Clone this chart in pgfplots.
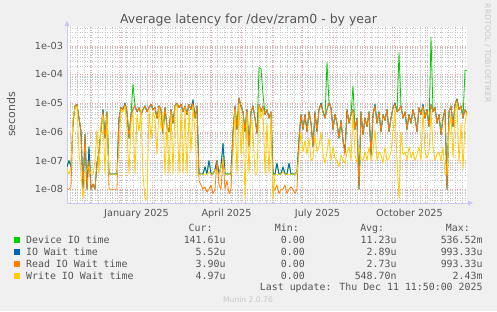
\documentclass[border=0pt]{standalone}
\usepackage{pgfplots}
\pgfplotsset{compat=1.18}
\usepackage{pgfplotstable}
\usetikzlibrary{arrows.meta}
\usepackage{fontspec}
\setmainfont{DejaVu Sans}
\newfontfamily\mono{DejaVu Sans Mono}
\definecolor{bgcol}{HTML}{F0F0F0}
\definecolor{txtcol}{HTML}{555555}
\definecolor{axcol}{HTML}{C8C8F0}
\definecolor{cdev}{HTML}{00CC00}
\definecolor{cio}{HTML}{0066B3}
\definecolor{crd}{HTML}{FF8000}
\definecolor{cwr}{HTML}{FFCC00}
\definecolor{majg}{HTML}{EBA8A8}
\definecolor{ming}{HTML}{C4C4C4}

\pgfplotstableread{
x dev io rd wr
0 6e-8 6e-8 1e-8 5e-8
2 1e-7 1e-7 1e-8 3.3e-8
4 6e-8 6e-8 1.2e-8 6e-8
6 2e-6 2e-6 2e-6 3e-6
8 8e-6 8e-6 8e-6 7e-6
10 9e-6 9e-6 9e-6 8e-6
12 3e-6 3e-6 3e-6 2e-7
14 1e-6 1e-6 1e-6 3.3e-8
16 1e-8 1e-8 1e-8 4.5e-9
18 8e-7 8e-7 8e-7 3.3e-8
20 1e-8 1e-8 1e-8 5e-8
22 3e-7 3e-7 1e-7 6e-8
24 1e-8 1e-8 1e-8 3.3e-8
26 1.5e-8 1.5e-8 1.5e-8 3.3e-8
28 1e-8 1e-8 1e-8 1e-7
30 8e-8 8e-8 8e-8 1.2e-6
32 2e-7 2e-7 2e-7 3.3e-8
34 1.2e-6 1.2e-6 1.2e-6 2e-6
36 6e-6 6e-6 5e-6 4e-6
38 6e-7 6e-7 6e-7 3.3e-8
40 5e-6 5e-6 5e-6 4e-6
42 3.4e-8 3.4e-8 1e-8 3.3e-8
44 3.4e-8 3.4e-8 1e-8 3.3e-8
46 3.4e-8 3.4e-8 1e-8 3.3e-8
48 3.4e-8 3.4e-8 1e-8 3.3e-8
50 3.4e-8 3.4e-8 1e-8 3.3e-8
52 3e-6 3e-6 3e-6 3e-7
54 7e-6 7e-6 7e-6 6e-6
56 6e-6 6e-6 6e-6 5e-6
58 1e-5 1e-5 9e-6 8e-6
60 5e-6 5e-6 5e-6 1e-6
62 6e-7 6e-7 6e-7 3.3e-8
64 4e-6 4e-6 4e-6 2e-6
66 4.6e-5 6e-6 6e-6 5e-6
68 8e-6 8e-6 8e-6 3.3e-8
70 5e-6 5e-6 5e-6 4e-6
72 7e-6 7e-6 7e-6 1e-6
74 4e-6 4e-6 4e-6 6e-6
76 6e-6 6e-6 6e-6 3.3e-8
78 8e-6 8e-6 8e-6 4.5e-9
80 5e-6 5e-6 5e-6 4.5e-9
82 7e-6 7e-6 7e-6 6e-6
84 9e-6 9e-6 9e-6 5.5e-7
86 6e-6 6e-6 6e-6 5e-6
88 7e-6 7e-6 7e-6 3e-6
90 3e-6 3e-6 3e-6 1.6e-7
92 8e-6 8e-6 8e-6 7e-6
94 6e-6 6e-6 6e-6 1.2e-6
96 9e-7 9e-7 9e-7 5e-6
98 7e-6 7e-6 7e-6 3.3e-8
100 1.5e-6 1.5e-6 1.5e-6 2e-6
102 1e-6 1e-6 1e-6 3.3e-8
104 6e-6 6e-6 6e-6 5e-6
106 2e-6 2e-6 2e-6 3.3e-8
108 8e-6 8e-6 8e-6 7e-6
110 1e-5 1e-5 1e-5 9e-6
112 7e-6 7e-6 7e-6 3.3e-8
114 9e-6 9e-6 9e-6 6e-6
116 5e-6 5e-6 5e-6 3.3e-8
118 8e-6 8e-6 8e-6 7e-6
120 4e-6 4e-6 4e-6 3.3e-8
122 9e-6 9e-6 9e-6 5e-6
124 6e-6 6e-6 6e-6 2e-7
126 1.3e-5 1.3e-5 1e-5 8e-6
128 3e-6 3e-6 3e-6 1e-6
130 8e-6 8e-6 8e-6 3.3e-8
132 3.4e-8 3.4e-8 2e-8 3.3e-8
134 3.4e-8 3.4e-8 1.4e-8 3.3e-8
136 3.4e-8 3.4e-8 1e-8 3.3e-8
138 6e-8 6e-8 1.2e-8 3.3e-8
140 3.4e-8 3.4e-8 8e-9 3.3e-8
142 1e-7 1e-7 1e-8 4e-8
144 3.4e-8 3.4e-8 1.4e-8 3.3e-8
146 3.4e-8 3.4e-8 7e-9 3.3e-8
148 5e-8 5e-8 1e-8 5e-8
150 1e-7 1e-7 1e-7 3.3e-8
152 3.4e-8 3.4e-8 1.4e-8 3.3e-8
154 6e-8 6e-8 1e-8 6e-8
156 4e-7 4e-7 1.2e-7 1e-7
158 3.4e-8 3.4e-8 1e-8 3.3e-8
160 3.4e-8 3.4e-8 2e-8 3.3e-8
162 3.4e-8 3.4e-8 7e-9 3.3e-8
164 3.4e-8 3.4e-8 1e-8 3.3e-8
166 1e-6 1e-6 1e-6 1.6e-7
168 8e-6 8e-6 8e-6 6e-6
170 1.2e-6 1.2e-6 1.2e-6 3.3e-8
172 1.5e-5 1.5e-5 1.5e-5 1e-5
174 8e-6 8e-6 8e-6 1.6e-7
176 5e-6 5e-6 5e-6 3e-6
178 1e-6 1e-6 1e-6 4.5e-9
180 6e-6 6e-6 6e-6 5e-6
182 3e-7 3e-7 3e-7 3.3e-8
184 5e-6 5e-6 5e-6 3e-6
186 8e-6 8e-6 8e-6 1e-6
188 3e-6 3e-6 3e-6 3.3e-8
190 9e-7 9e-7 9e-7 3.3e-8
192 1.7e-4 9e-6 9e-6 8e-6
194 1.6e-4 5e-6 5e-6 3e-6
196 2e-5 8e-6 8e-6 7e-6
198 4e-6 4e-6 4e-6 3.3e-8
200 6e-6 6e-6 6e-6 2e-6
202 3e-6 3e-6 3e-6 3.3e-8
204 5e-6 5e-6 5e-6 4e-6
206 3.4e-8 3.4e-8 8e-9 4.5e-9
208 3.4e-8 3.4e-8 1e-8 3.3e-8
210 8e-8 8e-8 1.4e-8 3.3e-8
212 3.4e-8 3.4e-8 7e-9 3.3e-8
214 3.4e-8 3.4e-8 1e-8 3.3e-8
216 6e-8 6e-8 1e-8 4e-8
218 3.4e-8 3.4e-8 1.4e-8 3.3e-8
220 3.4e-8 3.4e-8 7e-9 3.3e-8
222 8e-8 8e-8 1e-8 3.3e-8
224 3.4e-8 3.4e-8 1.2e-8 3.3e-8
226 3.4e-8 3.4e-8 1e-8 3.3e-8
228 3.4e-8 3.4e-8 7e-9 3.3e-8
230 4e-8 4e-8 1e-8 4e-8
232 5.5e-7 5.5e-7 5.5e-7 1.6e-7
234 4e-6 4e-6 4e-6 1e-6
236 1.2e-6 1.2e-6 1.2e-6 2e-7
238 4e-6 4e-6 4e-6 5e-7
240 1e-6 1e-6 1e-6 1.6e-7
242 5e-6 5e-6 5e-6 6e-7
244 2e-6 2e-6 2e-6 1e-7
246 3e-7 3e-7 3e-7 1.2e-7
248 5e-6 5e-6 5e-6 8e-7
250 1e-6 1e-6 1e-6 2e-7
252 6e-6 6e-6 6e-6 3e-7
254 1e-5 1e-5 9e-6 1e-6
256 5e-6 5e-6 5e-6 1.6e-7
258 3e-6 3e-6 3e-6 8e-8
260 2.7e-4 6e-6 6e-6 2e-7
262 1e-5 1e-5 1e-5 6e-7
264 7e-6 7e-6 7e-6 1e-7
266 1.2e-6 1.2e-6 1.2e-6 3e-7
268 4e-6 4e-6 4e-6 1.2e-7
270 2e-6 2e-6 2e-6 1e-7
272 6e-7 6e-7 6e-7 6e-8
274 2.5e-6 2.5e-6 2.5e-6 1.6e-7
276 5e-7 5e-7 5e-7 1e-7
278 2e-7 2e-7 1.5e-7 8e-8
280 6e-6 6e-6 6e-6 2e-7
282 2e-6 2e-6 2e-6 3e-7
284 4e-6 4e-6 4e-6 1e-7
286 4e-5 6e-6 6e-6 5e-6
288 1.2e-6 1.2e-6 1.2e-6 1.6e-7
290 3e-6 3e-6 3e-6 8e-8
292 1e-8 1e-8 1e-8 3e-7
294 5e-6 5e-6 5e-6 1.2e-7
296 8e-7 8e-7 8e-7 1e-7
298 3e-6 3e-6 3e-6 2e-7
300 1.5e-6 1.5e-6 1.5e-6 1e-7
302 5e-6 5e-6 5e-6 3e-7
304 1.5e-7 1.5e-7 1.5e-7 1e-7
306 4e-6 4e-6 4e-6 2e-7
308 9e-6 9e-6 8e-6 1.2e-6
310 2e-6 2e-6 2e-6 1e-7
312 5e-6 5e-6 5e-6 2e-7
314 1e-6 1e-6 1e-6 1.6e-7
316 4e-6 4e-6 4e-6 8e-8
318 2.5e-6 2.5e-6 2.5e-6 3e-7
320 6e-6 6e-6 6e-6 1e-7
322 1e-6 1e-6 1e-6 1.2e-7
324 3e-6 3e-6 3e-6 2e-7
326 7e-6 7e-6 7e-6 1e-6
328 1e-5 1e-5 9e-6 6e-6
330 5e-6 5e-6 5e-6 1e-7
332 5.6e-4 6e-6 6e-6 4.5e-9
334 8e-6 8e-6 8e-6 1e-6
336 3e-6 3e-6 3e-6 1.6e-7
338 5e-6 5e-6 5e-6 2e-7
340 1.2e-6 1.2e-6 1.2e-6 1e-7
342 4e-6 4e-6 4e-6 3e-7
344 2e-6 2e-6 2e-6 1.2e-7
346 6e-6 6e-6 6e-6 2e-7
348 3e-6 3e-6 3e-6 1e-7
350 1e-6 1e-6 1e-6 1.6e-7
352 7e-6 7e-6 7e-6 3e-7
354 4e-6 4e-6 4e-6 1e-7
356 9e-6 9e-6 8e-6 6e-6
358 3e-6 3e-6 3e-6 2e-7
360 6e-6 6e-6 6e-6 1.2e-7
362 1.5e-6 1.5e-6 1.5e-6 2e-7
364 2e-3 9e-6 9e-6 5e-6
366 5e-6 5e-6 5e-6 3e-7
368 7e-6 7e-6 7e-6 1e-7
370 2e-6 2e-6 2e-6 1.6e-7
372 4e-6 4e-6 4e-6 2e-7
374 8e-7 8e-7 8e-7 1e-7
376 3e-6 3e-6 3e-6 3e-7
378 6e-6 6e-6 6e-6 3.3e-8
380 1e-8 1e-8 1e-8 3.3e-8
382 5e-6 5e-6 5e-6 1e-6
384 8e-6 8e-6 8e-6 4e-6
386 1.5e-6 1.5e-6 1.5e-6 1.2e-7
388 9e-6 9e-6 9e-6 5e-6
390 1.4e-5 1.4e-5 1.3e-5 1e-5
392 6e-6 6e-6 6e-6 8e-8
394 8e-6 8e-6 8e-6 2e-6
396 3e-6 3e-6 3e-6 5e-8
398 1.4e-4 6e-6 6e-6 2e-6
400 1.4e-4 4.5e-6 3.9e-6 4.97e-6
}\latdata

\begin{document}
\begin{tikzpicture}
\path[use as bounding box, fill=bgcol] (0pt,0pt) rectangle (497pt,311pt);
\begin{axis}[
  at={(67pt,108pt)}, anchor=south west,
  width=400pt, height=176pt, scale only axis,
  axis background/.style={fill=white},
  xmin=0, xmax=400,
  ymode=log, ymin=3.3e-9, ymax=4.5e-3,
  axis lines=left,
  axis line style={draw=axcol, line width=0.8pt},
  x axis line style={-{Triangle[length=5pt,width=5pt]}, shorten >=-6pt},
  y axis line style={-{Triangle[length=5pt,width=5pt]}, shorten >=-6pt},
  xtick={23.5,54.5,85.5,113.5,144.5,174.5,205.5,235.5,266.5,297.5,327.5,358.5,388.5},
  xticklabels={},
  minor xtick={3.5,10.5,...,396},
  extra x ticks={69.5,159.5,250.5,342.5},
  extra x tick labels={January 2025,April 2025,July 2025,October 2025},
  extra x tick style={grid=none, xticklabel style={anchor=base, yshift=-13pt}},
  ytick={1e-8,1e-7,1e-6,1e-5,1e-4,1e-3},
  yticklabels={1e-08,1e-07,1e-06,1e-05,1e-04,1e-03},
  minor ytick={4e-9,5e-9,6e-9,7e-9,8e-9,9e-9,
    2e-8,3e-8,4e-8,5e-8,6e-8,7e-8,8e-8,9e-8,
    2e-7,3e-7,4e-7,5e-7,6e-7,7e-7,8e-7,9e-7,
    2e-6,3e-6,4e-6,5e-6,6e-6,7e-6,8e-6,9e-6,
    2e-5,3e-5,4e-5,5e-5,6e-5,7e-5,8e-5,9e-5,
    2e-4,3e-4,4e-4,5e-4,6e-4,7e-4,8e-4,9e-4,
    2e-3,3e-3,4e-3},
  major tick length=0pt, minor tick length=0pt,
  grid=both,
  major grid style={draw=majg, line width=0.45pt, dash pattern=on 1pt off 1.5pt},
  minor grid style={draw=ming, line width=0.45pt, dash pattern=on 1pt off 1.5pt},
  tick label style={font=\fontsize{9.7}{11}\selectfont, text=txtcol},
  yticklabel style={xshift=-0.5pt},
  clip=true,
  every axis plot/.append style={line width=0.8pt, line join=round},
]
\addplot[cdev, mark=none] table[x=x, y=dev] {\latdata};
\addplot[cio, mark=none] table[x=x, y=io] {\latdata};
\addplot[crd, mark=none] table[x=x, y=rd] {\latdata};
\addplot[cwr, mark=none] table[x=x, y=wr] {\latdata};
\end{axis}

% title and labels
\node[anchor=base, text=txtcol, font=\fontsize{12.5}{14}\selectfont] at (248.5pt,287pt) {Average latency for /dev/zram0 - by year};
\node[rotate=90, text=txtcol, font=\fontsize{11}{13}\selectfont] at (11pt,196.5pt) {seconds};
\node[rotate=-90, text=black!22, font=\fontsize{7.7}{9}\selectfont] at (487.5pt,257.5pt) {RRDTOOL / TOBI OETIKER};

% legend
\begin{scope}[every node/.style={font=\mono\fontsize{9.9}{12}\selectfont, text=txtcol, inner sep=0pt}]
\node[anchor=base east] at (212.7pt,80pt) {Cur:};
\node[anchor=base east] at (299pt,80pt) {Min:};
\node[anchor=base east] at (384.3pt,80pt) {Avg:};
\node[anchor=base east] at (470pt,80pt) {Max:};

\fill[cdev] (14pt,67.7pt) rectangle (20pt,73.7pt);
\node[anchor=base west] at (26pt,67.7pt) {Device IO time};
\node[anchor=base east] at (225.7pt,67.7pt) {141.61u};
\node[anchor=base east] at (305pt,67.7pt) {0.00};
\node[anchor=base east] at (396.7pt,67.7pt) {11.23u};
\node[anchor=base east] at (482.7pt,67.7pt) {536.52m};

\fill[cio] (14pt,55.7pt) rectangle (20pt,61.7pt);
\node[anchor=base west] at (26pt,55.7pt) {IO Wait time};
\node[anchor=base east] at (225.7pt,55.7pt) {5.52u};
\node[anchor=base east] at (305pt,55.7pt) {0.00};
\node[anchor=base east] at (396.7pt,55.7pt) {2.89u};
\node[anchor=base east] at (482.7pt,55.7pt) {993.33u};

\fill[crd] (14pt,44pt) rectangle (20pt,50pt);
\node[anchor=base west] at (26pt,44pt) {Read IO Wait time};
\node[anchor=base east] at (225.7pt,44pt) {3.90u};
\node[anchor=base east] at (305pt,44pt) {0.00};
\node[anchor=base east] at (396.7pt,44pt) {2.73u};
\node[anchor=base east] at (482.7pt,44pt) {993.33u};

\fill[cwr] (14pt,32pt) rectangle (20pt,38pt);
\node[anchor=base west] at (26pt,32pt) {Write IO Wait time};
\node[anchor=base east] at (225.7pt,32pt) {4.97u};
\node[anchor=base east] at (305pt,32pt) {0.00};
\node[anchor=base east] at (396.7pt,32pt) {548.70n};
\node[anchor=base east] at (482.7pt,32pt) {2.43m};

\node[anchor=base east] at (482.7pt,20.5pt) {Last update: Thu Dec 11 11:50:00 2025};
\end{scope}
\node[anchor=base, inner sep=0pt, text=black!22, font=\fontsize{7.6}{9}\selectfont] at (248pt,8.3pt) {Munin 2.0.76};
\end{tikzpicture}
\end{document}
